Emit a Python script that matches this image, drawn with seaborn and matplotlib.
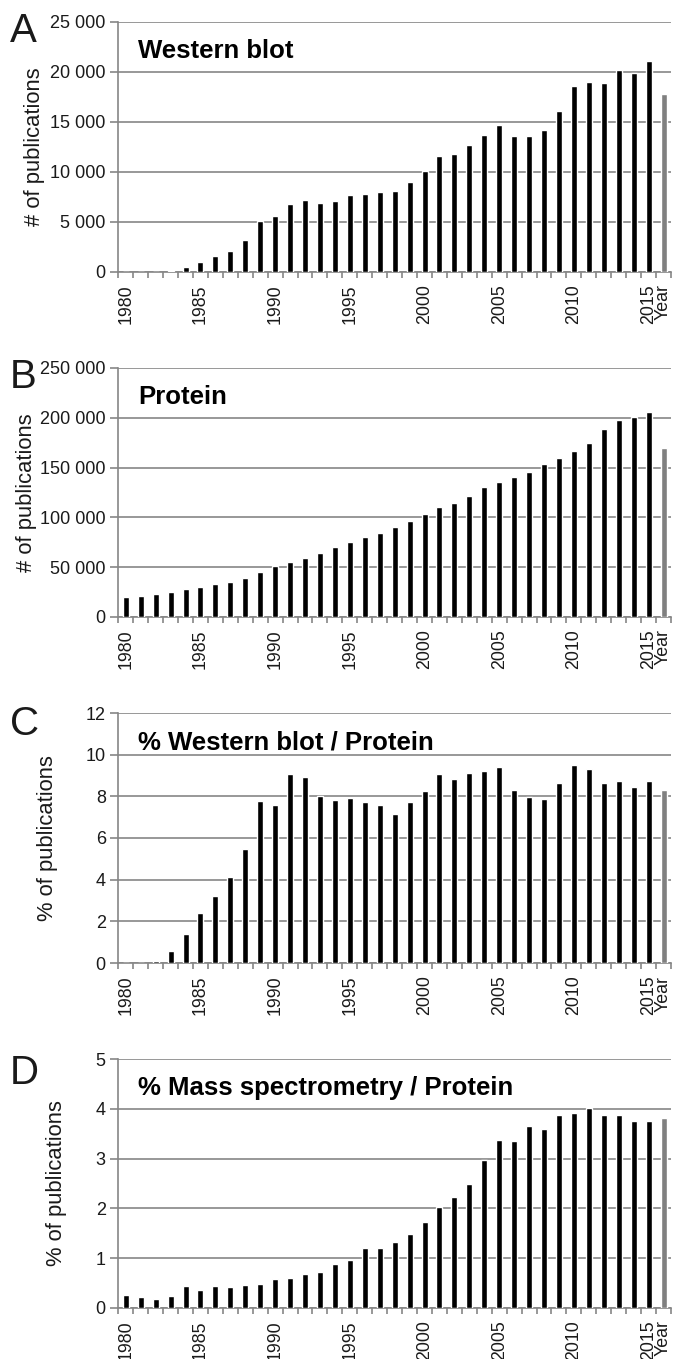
import matplotlib
matplotlib.use('Agg')
import matplotlib.pyplot as plt
from matplotlib.ticker import FuncFormatter, FixedLocator
import numpy as np
import pandas as pd
import seaborn as sns

# categories: 1980..2015 plus the partial last year shown in gray
years = [str(y) for y in range(1980, 2016)] + ['Year']

western_blot = [0, 0, 25, 150, 550, 1000, 1570, 2130, 3230, 5100,
                5600, 6830, 7230, 6930, 7150, 7670, 7830, 7970, 8070, 9000,
                10130, 11630, 11770, 12730, 13700, 14700, 13600, 13600, 14200, 16070,
                18600, 19030, 18930, 20200, 19870, 21070, 17800]

protein = [20400, 21100, 22800, 25400, 27800, 30500, 33100, 35100, 39500, 44800,
           50900, 54900, 59200, 63900, 70000, 75300, 80000, 84300, 90700, 96700,
           103800, 110100, 114500, 121500, 130900, 135600, 140900, 145900, 153300, 159300,
           166300, 175000, 188800, 197500, 200800, 205800, 169400]

wb_pct = [0, 0, 0.11, 0.59, 1.37, 2.41, 3.24, 4.15, 5.46, 7.77,
          7.58, 9.05, 8.94, 8.01, 7.82, 7.92, 7.75, 7.59, 7.17, 7.71,
          8.25, 9.07, 8.81, 9.13, 9.21, 9.43, 8.29, 7.98, 7.89, 8.65,
          9.51, 9.32, 8.64, 8.76, 8.46, 8.75, 8.30]

ms_pct = [0.27, 0.22, 0.19, 0.25, 0.44, 0.37, 0.45, 0.43, 0.455, 0.48,
          0.58, 0.60, 0.69, 0.73, 0.875, 0.96, 1.20, 1.20, 1.32, 1.49,
          1.72, 2.02, 2.23, 2.49, 2.98, 3.38, 3.36, 3.66, 3.59, 3.87,
          3.91, 4.01, 3.87, 3.87, 3.75, 3.75, 3.82]

kind = ['full'] * 36 + ['partial']
shown_labels = ['1980', '1985', '1990', '1995', '2000', '2005', '2010', '2015', 'Year']

panels = [
    ('A', 'Western blot', western_blot, '# of publications', 25000, 5000),
    ('B', 'Protein', protein, '# of publications', 250000, 50000),
    ('C', '% Western blot / Protein', wb_pct, '% of publications', 12, 2),
    ('D', '% Mass spectrometry / Protein', ms_pct, '% of publications', 5, 1),
]

sns.set_style('white')
plt.rcParams['font.family'] = ['Liberation Sans', 'DejaVu Sans']

W, H = 673, 1359
fig = plt.figure(figsize=(W / 100, H / 100), dpi=100)

# pixel boxes (top, bottom) of each plot area
boxes = [(22, 272), (368, 617), (713, 963), (1059, 1308)]
letter_base = [42, 388, 735, 1084]
ylab_x = [-0.152, -0.166, -0.128, -0.112]
left_px, right_px = 118.3, 671

grey = '#868686'
ink = '#1a1a1a'

def space_thousands(v, pos):
    return f'{int(round(v)):,}'.replace(',', ' ')

for i, (letter, title, vals, ylab, ymax, step) in enumerate(panels):
    top, bot = boxes[i]
    ax = fig.add_axes([left_px / W, 1 - bot / H, (right_px - left_px) / W, (bot - top) / H])
    df = pd.DataFrame({'year': years, 'value': vals, 'kind': kind})
    sns.barplot(data=df, x='year', y='value', hue='kind', order=years,
                palette={'full': 'black', 'partial': '#808080'},
                dodge=False, legend=False, width=0.4, ax=ax, saturation=1)
    ax.set_xlim(-0.5, len(years) - 0.5)
    ax.set_ylim(0, ymax)
    ax.set_yticks(np.arange(0, ymax + step / 2, step))
    if ymax > 100:
        ax.yaxis.set_major_formatter(FuncFormatter(space_thousands))
    ax.yaxis.grid(True, color=grey, linewidth=1.2)
    ax.set_axisbelow(True)
    for s in ['top', 'right']:
        ax.spines[s].set_visible(False)
    for s in ['left', 'bottom']:
        ax.spines[s].set_color(grey)
        ax.spines[s].set_linewidth(1.2)
        ax.spines[s].set_zorder(0.5)

    pos = [years.index(l) for l in shown_labels]
    ax.set_xticks(pos)
    ax.set_xticklabels(shown_labels, rotation=90, fontsize=12.8, color=ink)
    ax.xaxis.set_minor_locator(FixedLocator(np.arange(-0.5, len(years), 1.0)))
    ax.tick_params(axis='x', which='major', length=0, pad=9)
    ax.tick_params(axis='x', which='minor', length=4, width=1.2, color=grey, direction='out', bottom=True)
    ax.tick_params(axis='y', which='major', length=6, width=1.2, color=grey, direction='out',
                   left=True, pad=3, labelsize=13, labelcolor=ink)

    ax.set_xlabel('')
    ax.set_ylabel(ylab, fontsize=15.8, color=ink, va='center')
    ax.yaxis.set_label_coords(ylab_x[i], 0.5)

    ax.text(0.036, 0.855, title, transform=ax.transAxes, fontsize=18.5,
            fontweight='bold', ha='left', va='baseline', color='black')
    fig.text(10 / W, 1 - letter_base[i] / H, letter, fontsize=29,
             ha='left', va='baseline', color=ink)

fig.savefig('out.png', dpi=100)
